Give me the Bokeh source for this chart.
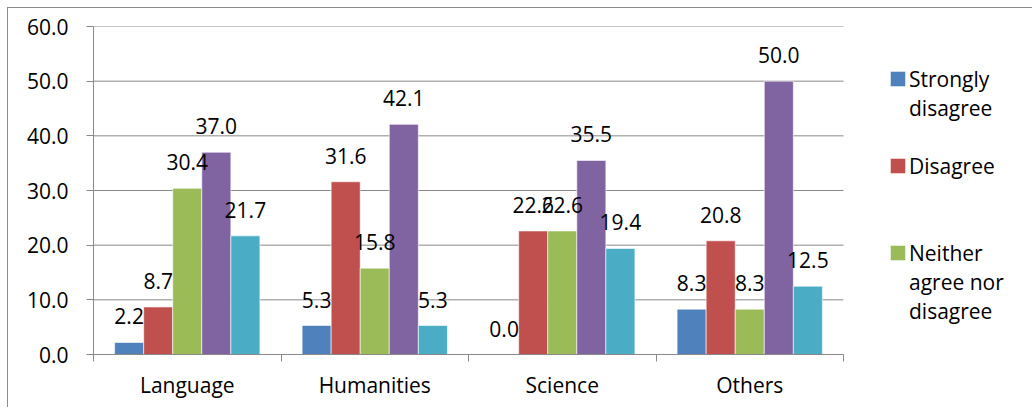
from bokeh.plotting import figure
from bokeh.models import (ColumnDataSource, FixedTicker, LabelSet, Legend,
                          LegendItem, NumeralTickFormatter, Range1d)
from bokeh.core.properties import value
from bokeh.transform import dodge
from bokeh.embed import file_html
from bokeh.resources import INLINE

# ---- data ----
categories = ["Language", "Humanities", "Science", "Others"]
series_names = ["Strongly disagree", "Disagree", "Neither agree nor disagree",
                "Agree", "Strongly agree"]
strongly_disagree = [2.2, 5.3, 0.0, 8.3]
disagree = [8.7, 31.6, 22.6, 20.8]
neither = [30.4, 15.8, 22.6, 8.3]
agree = [37.0, 42.1, 35.5, 50.0]
strongly_agree = [21.7, 5.3, 19.4, 12.5]
y_ticks = [0, 10, 20, 30, 40, 50, 60]
# legend lines as wrapped in the reference (series index, or None for a text-only line)
legend_lines = [(0, "Strongly"), (None, "disagree"), (None, " "),
                (1, "Disagree"), (None, " "), (None, " "),
                (2, "Neither"), (None, "agree nor"), (None, "disagree")]

series = [strongly_disagree, disagree, neither, agree, strongly_agree]
colors = ["#4F81BD", "#C0504D", "#9BBB59", "#8064A2", "#4BACC6"]
FONT = "Open Sans"
FS = "21px"
GRAY = "#898989"

n = len(categories)
xc = [i + 0.5 for i in range(n)]
data = {"x": xc}
for i, s in enumerate(series):
    data[f"s{i}"] = s
    data[f"t{i}"] = [f"{v:.1f}" for v in s]
src = ColumnDataSource(data)

# frame widened to the right so the legend area is inside it (not clipped);
# category area occupies 0..n, legend area beyond n
W, H = 1025, 400
ML, MT, MR, MB = 85, 18, 3, 54
p = figure(width=W, height=H,
           x_range=Range1d(0, (W - ML - MR) / 187.5), y_range=Range1d(0, 60),
           output_backend="svg", toolbar_location=None,
           min_border_left=ML, min_border_top=MT,
           min_border_right=MR, min_border_bottom=MB)
p.styles = {"margin-left": "7px", "margin-top": "7px",
            "border-top": "1px solid #8c8c8c", "border-left": "1px solid #8c8c8c"}
p.outline_line_color = None
p.background_fill_color = "white"
p.border_fill_color = "white"

# horizontal gridlines limited to the category area
p.segment(x0=[0] * len(y_ticks), x1=[n] * len(y_ticks), y0=y_ticks, y1=y_ticks,
          line_color=GRAY, line_width=1)

bw = 0.155
offsets = [-2 * bw, -bw, 0, bw, 2 * bw]
renderers = []
for i in range(len(series)):
    r = p.vbar(x=dodge("x", offsets[i], range=p.x_range), top=f"s{i}", width=bw,
               source=src, fill_color=colors[i], line_color="white", line_width=0.6)
    renderers.append(r)
    p.add_layout(LabelSet(x=dodge("x", offsets[i], range=p.x_range), y=f"s{i}",
                          text=f"t{i}", source=src, text_align="center",
                          text_baseline="alphabetic", y_offset=18,
                          text_font=value(FONT), text_font_size=value(FS),
                          text_color="black"))

# invisible renderer used for text-only legend lines
blank = p.vbar(x=[], top=[], width=bw, fill_alpha=0, line_alpha=0)

# axes
p.xgrid.grid_line_color = None
p.ygrid.grid_line_color = None

xa = p.xaxis[0]
xa.bounds = (0, n)
xa.ticker = FixedTicker(ticks=xc, minor_ticks=list(range(n + 1)))
xa.major_label_overrides = {v: c for v, c in zip(xc, categories)}
xa.major_tick_out = 0
xa.major_tick_in = 0
xa.minor_tick_out = 7
xa.minor_tick_in = 0
xa.minor_tick_line_color = GRAY
xa.axis_line_color = GRAY
xa.major_label_text_font = FONT
xa.major_label_text_font_size = FS
xa.major_label_text_color = "black"
xa.major_label_standoff = 9

ya = p.yaxis[0]
ya.ticker = FixedTicker(ticks=y_ticks)
ya.formatter = NumeralTickFormatter(format="0.0")
ya.major_tick_out = 7
ya.major_tick_in = 0
ya.minor_tick_line_color = None
ya.major_tick_line_color = GRAY
ya.axis_line_color = GRAY
ya.major_label_text_font = FONT
ya.major_label_text_font_size = FS
ya.major_label_text_color = "black"
ya.major_label_standoff = 18

# legend (only first three entries visible, as in the reference)
items = [LegendItem(label=txt, renderers=[renderers[i] if i is not None else blank])
         for i, txt in legend_lines]
legend = Legend(items=items, location=(795, 29), orientation="vertical",
                glyph_width=19, glyph_height=19, label_standoff=2,
                label_height=29, label_text_font=FONT, label_text_font_size=FS,
                label_text_color="black",
                spacing=0, padding=0, margin=0,
                border_line_color=None, background_fill_alpha=0)
p.add_layout(legend)

open("out.html", "w").write(file_html(p, INLINE))
